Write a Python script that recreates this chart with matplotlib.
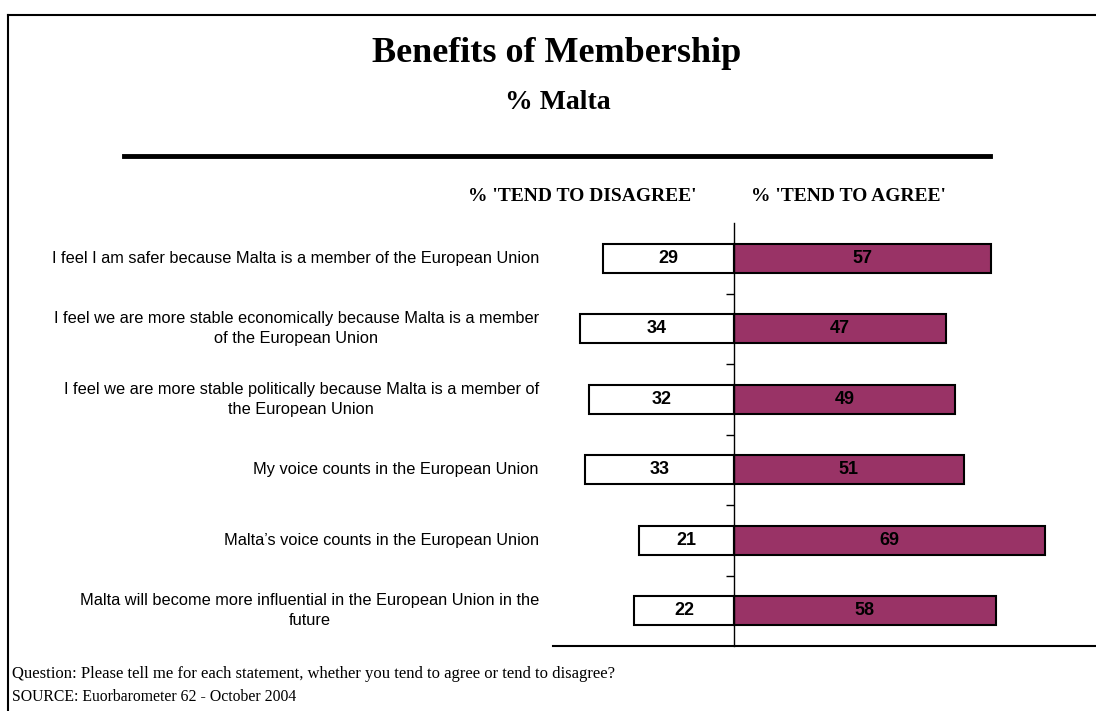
import numpy as np
import matplotlib
matplotlib.use("Agg")
import matplotlib.pyplot as plt
from matplotlib.lines import Line2D
import matplotlib.transforms as mtransforms

# data
statements = [
    "I feel I am safer because Malta is a member of the European Union",
    "I feel we are more stable economically because Malta is a member\nof the European Union",
    "I feel we are more stable politically because Malta is a member of\nthe European Union",
    "My voice counts in the European Union",
    "Malta\u2019s voice counts in the European Union",
    "Malta will become more influential in the European Union in the\nfuture",
]
disagree = [29, 34, 32, 33, 21, 22]
agree = [57, 47, 49, 51, 69, 58]

title = "Benefits of Membership"
subtitle = "% Malta"
head_left = "% 'TEND TO DISAGREE'"
head_right = "% 'TEND TO AGREE'"
question = "Question: Please tell me for each statement, whether you tend to agree or tend to disagree?"
source = "SOURCE: Euorbarometer 62 - October 2004"

serif = ["Liberation Serif", "DejaVu Serif"]
sans = ["Liberation Sans", "DejaVu Sans"]
plum = "#993366"

W, H = 1096, 711
fig = plt.figure(figsize=(W / 100, H / 100), dpi=100)

def fx(px):
    return px / W

def fy(py):
    return 1 - py / H

# frame: top and left lines only
fig.add_artist(Line2D([fx(8), fx(1096)], [fy(15), fy(15)], color="black", lw=1.5))
fig.add_artist(Line2D([fx(8), fx(8)], [fy(15), fy(711)], color="black", lw=1.5))

fig.text(fx(557), fy(62), title, family=serif, weight="bold", fontsize=26,
         ha="center", va="baseline")
fig.text(fx(558), fy(109), subtitle, family=serif, weight="bold", fontsize=20,
         ha="center", va="baseline")
fig.add_artist(Line2D([fx(124), fx(990)], [fy(156), fy(156)], color="black", lw=3.5))
fig.text(fx(582), fy(201), head_left, family=serif, weight="bold", fontsize=14,
         ha="center", va="baseline")
fig.text(fx(848), fy(201), head_right, family=serif, weight="bold", fontsize=14,
         ha="center", va="baseline")

fig.text(fx(12), fy(674), question, family=serif, fontsize=12, ha="left", va="center")
fig.text(fx(12), fy(697), source, family=serif, fontsize=11.3, ha="left", va="center")

ax = fig.add_axes([fx(553), fy(646), fx(1095) - fx(553), (646 - 223) / H])
y = np.arange(len(statements))
bh = 0.41
ax.barh(y, [-d for d in disagree], height=bh, color="white", edgecolor="black", lw=1.5)
ax.barh(y, agree, height=bh, color=plum, edgecolor="black", lw=1.5)

for i in range(len(y)):
    ax.text(-disagree[i] / 2, y[i], str(disagree[i]), family=sans, weight="bold",
            fontsize=13, ha="center", va="center")
    ax.text(agree[i] / 2, y[i], str(agree[i]), family=sans, weight="bold",
            fontsize=13, ha="center", va="center")

trans = mtransforms.blended_transform_factory(ax.transAxes, ax.transData)
for i, s in enumerate(statements):
    ax.text(-0.026, y[i], s, transform=trans, family=sans, fontsize=11.8,
            ha="right", va="center", multialignment="center", linespacing=1.4)

ax.set_xlim(-40, 80)
ax.set_ylim(len(y) - 0.5, -0.5)
for side in ["top", "right"]:
    ax.spines[side].set_visible(False)
ax.spines["left"].set_position(("data", 0))
ax.spines["left"].set_linewidth(1.0)
ax.spines["bottom"].set_linewidth(1.5)
ax.set_xticks([])
ax.set_yticks(np.arange(len(y) - 1) + 0.5)
ax.set_yticklabels([])
ax.tick_params(axis="y", direction="out", length=6, width=1)

fig.savefig("out.png", dpi=100)
